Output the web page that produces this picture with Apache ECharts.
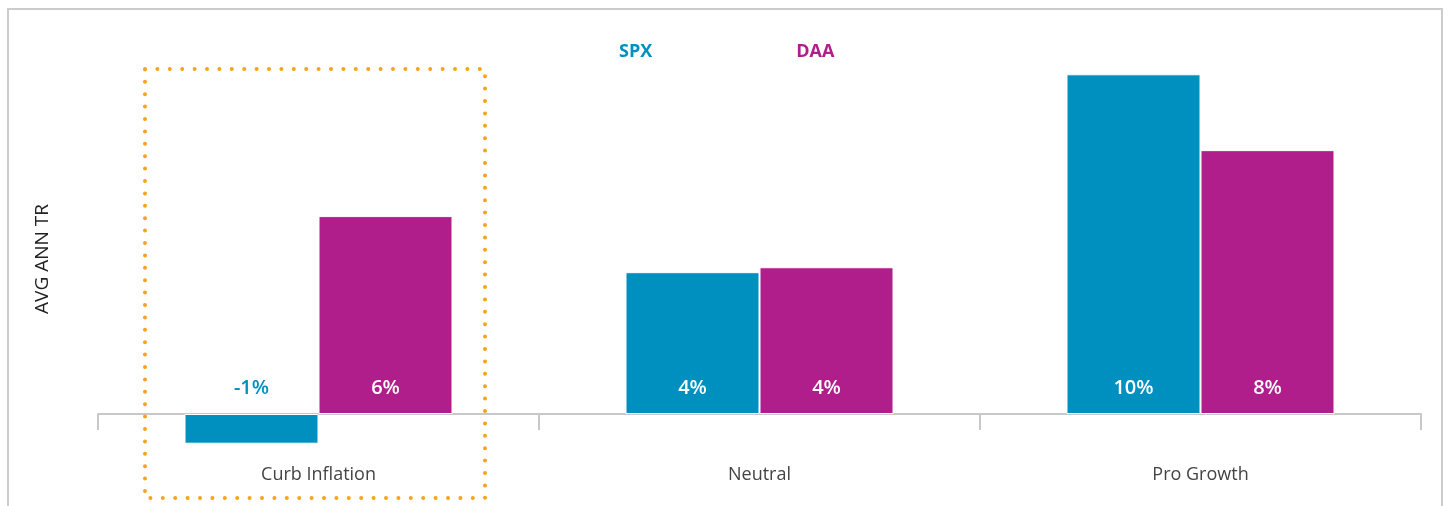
<!DOCTYPE html>
<html>
<head>
<meta charset="utf-8">
<script src="https://cdn.jsdelivr.net/npm/echarts@6/dist/echarts.min.js"></script>
<style>
  html, body { margin: 0; padding: 0; background: #fff; }
  #main { width: 1449px; height: 506px; }
</style>
</head>
<body>
<div id="main"></div>
<script>
var categories = ['Curb Inflation', 'Neutral', 'Pro Growth'];
var spx = [-0.9, 4.3, 10.3];
var daa = [6.0, 4.45, 8.0];

var SPX_COLOR = '#0090BF';
var DAA_COLOR = '#AF1E8A';

var chartDom = document.getElementById('main');
var myChart = echarts.init(chartDom);

function pct(p) {
  return Math.round(p.value) + '%';
}

// negative bars get their label above the zero line, in the series colour
function barData(values, color) {
  return values.map(function (v) {
    if (v < 0) {
      return {
        value: v,
        label: { position: 'top', distance: 16, color: color }
      };
    }
    return v;
  });
}

var valueLabel = {
  show: true,
  position: 'insideBottom',
  distance: 16,
  color: '#fff',
  fontSize: 20,
  fontWeight: 600,
  formatter: pct
};

var option = {
  animation: false,
  textStyle: { fontFamily: 'Open Sans' },
  legend: {
    left: 608,
    top: 38,
    itemWidth: 0,
    itemHeight: 0,
    itemGap: 138,
    icon: 'rect',
    data: [
      { name: 'SPX', textStyle: { color: SPX_COLOR } },
      { name: 'DAA', textStyle: { color: DAA_COLOR } }
    ],
    textStyle: { fontSize: 18, fontWeight: 'bold' }
  },
  grid: { left: 98, right: 28, top: 38, bottom: 26, outerBoundsMode: 'none', containLabel: false },
  xAxis: {
    type: 'category',
    data: categories,
    axisLine: { onZero: true, lineStyle: { color: '#c8c8c8', width: 2 } },
    axisTick: { show: true, length: 16, lineStyle: { color: '#c8c8c8', width: 2 } },
    axisLabel: { margin: -14, fontSize: 18, color: '#444' }
  },
  yAxis: {
    type: 'value',
    min: -2,
    max: 11.4,
    name: 'AVG ANN TR',
    nameLocation: 'middle',
    nameGap: 46,
    nameTextStyle: { fontSize: 19, color: '#222' },
    axisLine: { show: false },
    axisTick: { show: false },
    axisLabel: { show: false },
    splitLine: { show: false }
  },
  series: [
    {
      name: 'SPX',
      type: 'bar',
      barWidth: 134,
      barGap: '0%',
      itemStyle: { color: SPX_COLOR, borderColor: '#fff', borderWidth: 1 },
      label: valueLabel,
      data: barData(spx, SPX_COLOR)
    },
    {
      name: 'DAA',
      type: 'bar',
      barWidth: 134,
      itemStyle: { color: DAA_COLOR, borderColor: '#fff', borderWidth: 1 },
      label: valueLabel,
      data: barData(daa, DAA_COLOR)
    }
  ],
  graphic: [
    {
      type: 'rect',
      shape: { x: 8, y: 9, width: 1434, height: 520 },
      style: { fill: 'none', stroke: '#cccccc', lineWidth: 2 },
      silent: true
    },
    {
      type: 'rect',
      shape: { x: 145, y: 69, width: 340, height: 429 },
      style: {
        fill: 'none',
        stroke: '#F7A31C',
        lineWidth: 4,
        lineCap: 'round',
        lineDash: [0, 12.4]
      },
      silent: true,
      z: 10
    }
  ]
};

option && myChart.setOption(option);
</script>
</body>
</html>
